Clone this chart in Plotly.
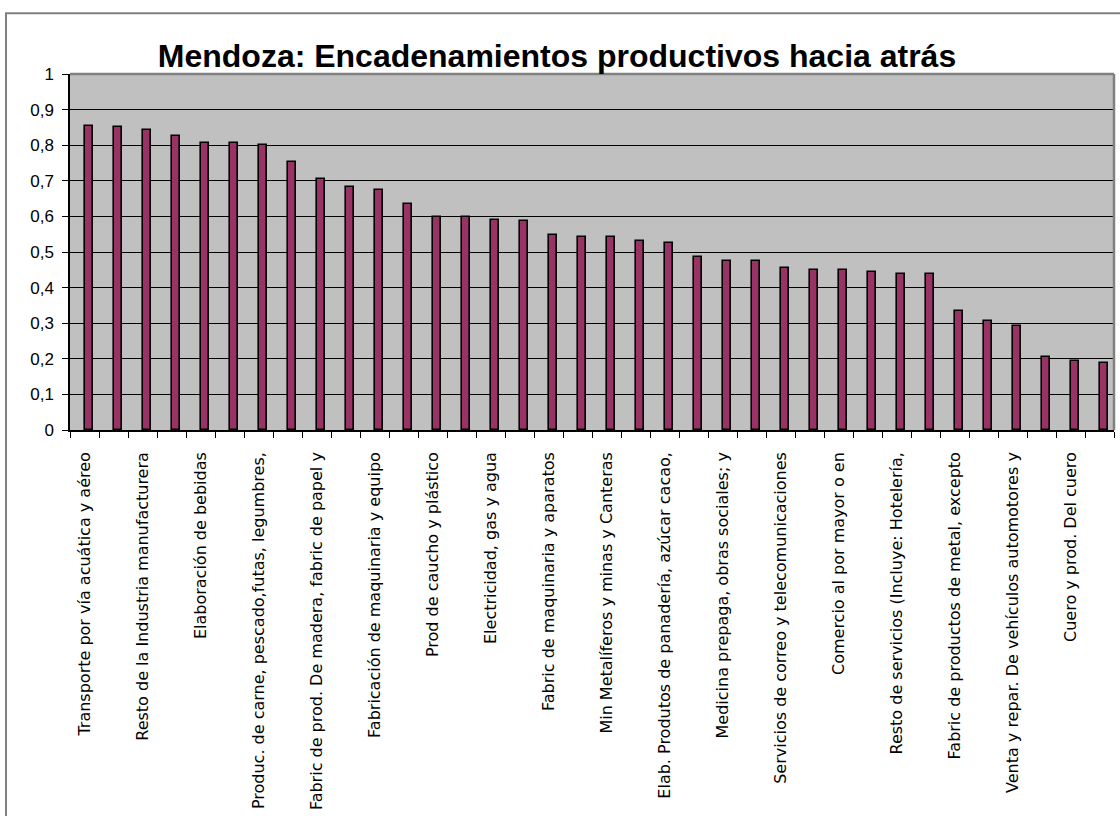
import plotly.graph_objects as go

title_text = "Mendoza: Encadenamientos productivos hacia atrás"

values = [0.855, 0.850, 0.842, 0.827, 0.805, 0.805, 0.800, 0.754, 0.704, 0.683,
          0.674, 0.634, 0.597, 0.597, 0.591, 0.586, 0.547, 0.541, 0.541, 0.531,
          0.526, 0.486, 0.475, 0.475, 0.454, 0.449, 0.449, 0.443, 0.438, 0.438,
          0.333, 0.307, 0.293, 0.205, 0.194, 0.189]

tick_labels = [
    "Transporte por vía acuática y aéreo",
    "Resto de la Industria manufacturera",
    "Elaboración de bebidas",
    "Produc. de carne, pescado,futas, legumbres,",
    "Fabric de prod. De madera, fabric de papel y",
    "Fabricación de maquinaria y equipo",
    "Prod de caucho y plástico",
    "Electricidad, gas y agua",
    "Fabric de maquinaria y aparatos",
    "Min Metalíferos y minas y Canteras",
    "Elab. Produtos de panadería, azúcar cacao,",
    "Medicina prepaga, obras sociales; y",
    "Servicios de correo y telecomunicaciones",
    "Comercio al por mayor o en",
    "Resto de servicios (Incluye: Hotelería,",
    "Fabric de productos de metal, excepto",
    "Venta y repar. De vehículos automotores y",
    "Cuero y prod. Del cuero",
]

y_ticks = [0, 0.1, 0.2, 0.3, 0.4, 0.5, 0.6, 0.7, 0.8, 0.9, 1]

positions = list(range(1, len(values) + 1))
label_positions = positions[::2]

fig = go.Figure()
fig.add_trace(go.Bar(
    x=positions, y=values,
    width=0.28, offset=0.03,
    marker=dict(color="#993366", line=dict(color="#000000", width=1.6)),
    showlegend=False,
))

L, R, T, B = 70, 6, 74, 379
W, H = 1120, 816
pw = W - L - R
ph = H - T - B

def px_to_paper_x(px):
    return (px - L) / pw

def py_to_paper_y(py):
    return (H - B - py) / ph

fig.update_layout(
    width=W, height=H,
    margin=dict(l=L, r=R, t=T, b=B),
    paper_bgcolor="white",
    plot_bgcolor="#C0C0C0",
    separators=",.",
    title=dict(
        text=title_text,
        font=dict(family="Liberation Sans, Arial", size=32, color="black", weight="bold"),
        x=557 / W, xanchor="center",
        y=1 - 56 / H, yanchor="middle", yref="container",
    ),
    bargap=0,
    shapes=[
        dict(type="rect", xref="paper", yref="paper",
             x0=px_to_paper_x(6), x1=px_to_paper_x(1135),
             y0=py_to_paper_y(840), y1=py_to_paper_y(12),
             line=dict(color="#808080", width=2), layer="below"),
        dict(type="line", xref="paper", yref="paper", x0=0, x1=1, y0=1, y1=1,
             line=dict(color="#808080", width=2.5), layer="above"),
        dict(type="line", xref="paper", yref="paper", x0=1, x1=1, y0=0, y1=1,
             line=dict(color="#808080", width=2.5), layer="above"),
    ],
)

fig.update_xaxes(
    range=[0.5, len(values) + 0.5],
    tickmode="array", tickvals=label_positions, ticktext=tick_labels,
    tickangle=-90,
    ticks="outside", ticklen=0, tickcolor="rgba(0,0,0,0)",
    ticklabelstandoff=14,
    tickfont=dict(family="DejaVu Sans", size=16, color="black"),
    showgrid=False, zeroline=False,
    showline=True, linecolor="black", linewidth=1.5,
    minor=dict(tick0=0.5, dtick=1, ticks="outside", ticklen=6,
               tickcolor="black", tickwidth=1, showgrid=False),
)

fig.update_yaxes(
    range=[0, 1],
    tickmode="array", tickvals=y_ticks,
    ticks="outside", ticklen=6, tickcolor="black", tickwidth=1,
    tickfont=dict(family="Liberation Sans, Arial", size=17, color="black"),
    ticklabelstandoff=5,
    showgrid=True, gridcolor="black", gridwidth=1,
    zeroline=False,
    showline=True, linecolor="black", linewidth=1.5,
)

fig.write_html(
    "out.html",
    config={"displayModeBar": False},
    post_script="document.body.style.margin='0px';document.body.style.overflow='hidden';",
)
